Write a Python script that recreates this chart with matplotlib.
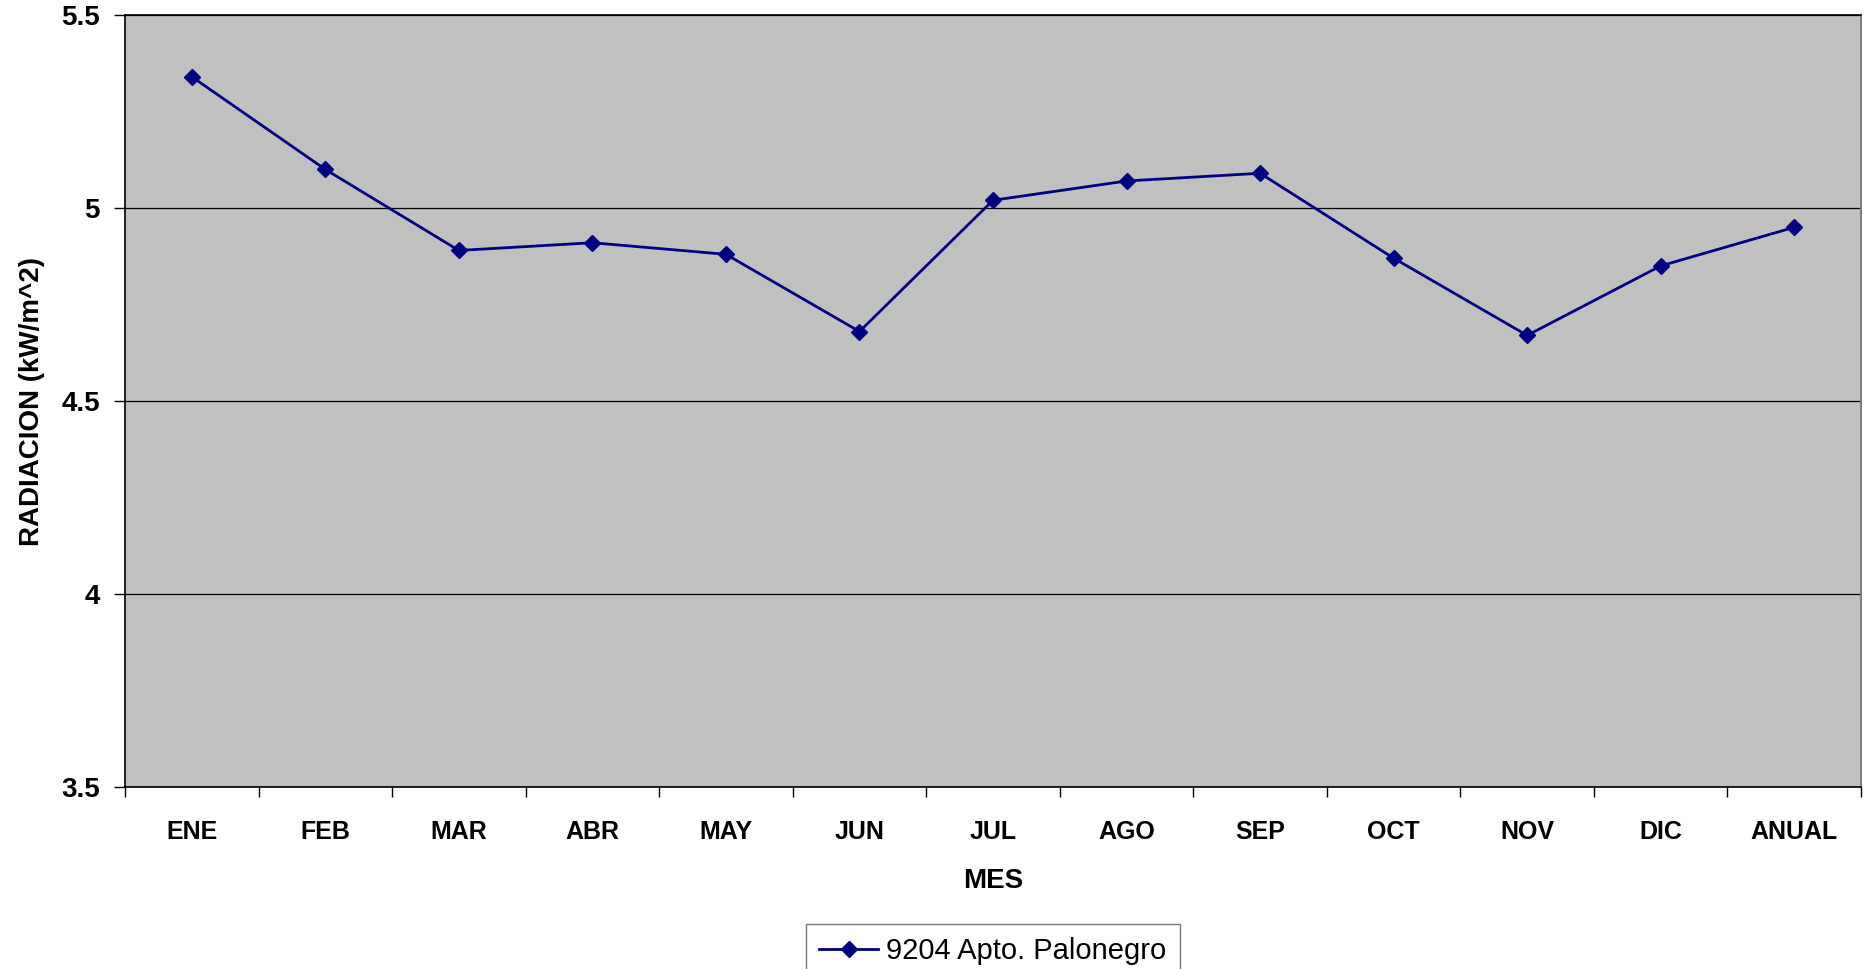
import matplotlib
matplotlib.use("Agg")
import matplotlib.pyplot as plt
import numpy as np

months = ["ENE", "FEB", "MAR", "ABR", "MAY", "JUN", "JUL", "AGO", "SEP", "OCT", "NOV", "DIC", "ANUAL"]
radiacion = [5.34, 5.10, 4.89, 4.91, 4.88, 4.68, 5.02, 5.07, 5.09, 4.87, 4.67, 4.85, 4.95]
series_name = "9204 Apto. Palonegro"
y_ticks = [3.5, 4, 4.5, 5, 5.5]
y_tick_labels = ["3.5", "4", "4.5", "5", "5.5"]

plt.rcParams['font.family'] = ['Liberation Sans', 'DejaVu Sans']

W, H = 1869, 969
fig = plt.figure(figsize=(W / 100, H / 100), dpi=100)
ax = fig.add_axes([125 / W, 1 - 787 / H, (1861 - 125) / W, (787 - 15) / H])
ax.set_facecolor("#c0c0c0")

x = np.arange(len(months))
ax.plot(x, radiacion, color="#000080", linewidth=2.0, marker="D", markersize=8,
        markerfacecolor="#000080", markeredgecolor="#000080", label=series_name, zorder=3)

ax.set_xlim(-0.5, len(months) - 0.5)
ax.set_ylim(3.5, 5.5)
ax.set_yticks(y_ticks)
ax.set_yticklabels(y_tick_labels, fontsize=20, fontweight="bold")
ax.yaxis.grid(True, color="#000000", linewidth=0.9)
ax.set_axisbelow(True)

ax.set_xticks(np.arange(-0.5, len(months), 1.0))
ax.set_xticklabels([])
ax.set_xticks(x, minor=True)
ax.set_xticklabels(months, minor=True, fontsize=18, fontweight="bold")
ax.tick_params(axis="x", which="minor", length=0, pad=24)
ax.tick_params(axis="x", which="major", length=7, width=1, direction="out", color="black")
ax.tick_params(axis="y", length=8, width=1, direction="out", pad=10)

for s in ["left", "bottom", "top"]:
    ax.spines[s].set_color("black")
    ax.spines[s].set_linewidth(1.2)
ax.spines["right"].set_color("#808080")
ax.spines["right"].set_linewidth(1.5)

ax.set_xlabel("MES", fontsize=20, fontweight="bold", labelpad=17)
ax.set_ylabel("RADIACION (kW/m^2)", fontsize=20, fontweight="bold", labelpad=12)

leg = fig.legend(loc="upper center", bbox_to_anchor=(993 / W, 1 - 924 / H), fontsize=21,
                 frameon=True, fancybox=False, edgecolor="#555555", handlelength=2.0,
                 borderpad=0.45, handletextpad=0.3, borderaxespad=0)
leg.get_frame().set_linewidth(1.0)

fig.savefig("out.png", dpi=100)
